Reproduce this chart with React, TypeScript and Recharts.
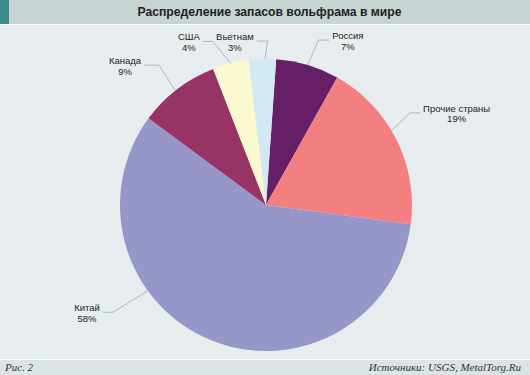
import { Cell, Pie, PieChart } from "recharts";

const countries = ["Россия", "Прочие страны", "Китай", "Канада", "США", "Вьетнам"];
const shares = [7, 19, 58, 9, 4, 3];
const sliceColors = ["#661f66", "#f47f80", "#9696c9", "#983365", "#fdf9cf", "#d0e9f3"];

const title = "Распределение запасов вольфрама в мире";
const figureNote = "Рис. 2";
const sourceNote = "Источники: USGS, MetalTorg.Ru";

const data = countries.map((name, i) => ({ name, value: shares[i] }));

// leader line tweaks: angles in degrees clockwise, distances in px
const leader: Record<string, { edge: number; elbow: number; ext: number; arm: number }> = {
  "Россия": { edge: 0, elbow: 1, ext: 27, arm: 11 },
  "Прочие страны": { edge: -4, elbow: -6, ext: 25, arm: 10 },
  "Китай": { edge: 32, elbow: 33, ext: 41, arm: -10 },
  "Канада": { edge: -1, elbow: 0, ext: 30, arm: -15 },
  "США": { edge: 0, elbow: -4, ext: 26, arm: -10 },
  "Вьетнам": { edge: 1, elbow: 2, ext: 18, arm: -11 },
};

const labelFont = "9.5px 'Liberation Sans', Arial, sans-serif";

let ctx: CanvasRenderingContext2D | null = null;
const textWidth = (s: string) => {
  if (!ctx) ctx = document.createElement("canvas").getContext("2d");
  if (!ctx) return s.length * 5.1;
  ctx.font = labelFont;
  return ctx.measureText(s).width;
};

const polar = (cx: number, cy: number, r: number, deg: number) => {
  const rad = (deg * Math.PI) / 180;
  return { x: cx + r * Math.sin(rad), y: cy - r * Math.cos(rad) };
};

const renderLabel = (props: any) => {
  const { cx, cy, midAngle, outerRadius, name, value } = props;
  const t = leader[name] ?? { edge: 0, elbow: 0, ext: 26, arm: 10 };
  const mid = 90 - midAngle;
  const p0 = polar(cx, cy, outerRadius, mid + t.edge);
  const p1 = polar(cx, cy, outerRadius + t.ext, mid + t.elbow);
  const x2 = p1.x + t.arm;
  const dir = t.arm < 0 ? -1 : 1;
  const pct = `${value}%`;
  const w = Math.max(textWidth(name), textWidth(pct));
  const tx = x2 + dir * (3 + w / 2);
  return (
    <g>
      <polyline
        points={`${p0.x},${p0.y} ${p1.x},${p1.y} ${x2},${p1.y}`}
        fill="none"
        stroke="#a3a8aa"
        strokeWidth={0.8}
      />
      <text x={tx} y={p1.y - 1} textAnchor="middle" fill="#222" style={{ font: labelFont }}>
        <tspan x={tx}>{name}</tspan>
        <tspan x={tx} dy={10.5}>
          {pct}
        </tspan>
      </text>
    </g>
  );
};

export default function App() {
  return (
    <div
      style={{
        position: "absolute",
        left: 0,
        top: 0,
        width: 530,
        height: 375,
        background: "#ffffff",
        fontFamily: "'Liberation Sans', Arial, sans-serif",
      }}
    >
      <div style={{ position: "absolute", left: 0, top: 0, width: 530, height: 24, background: "#c8d3d4" }}>
        <div style={{ position: "absolute", left: 0, top: 0, width: 9, height: 24, background: "#3a8a8d" }} />
        <div
          style={{
            position: "absolute",
            left: 9,
            right: 0,
            top: 0,
            height: 24,
            lineHeight: "24px",
            textAlign: "center",
            fontWeight: "bold",
            fontSize: 12.2,
            color: "#222",
          }}
        >
          {title}
        </div>
      </div>
      <div style={{ position: "absolute", left: 0, top: 25, width: 530, height: 334, background: "#e7edef" }} />
      <div
        style={{
          position: "absolute",
          left: 0,
          top: 360,
          width: 530,
          height: 15,
          background: "#dce3e5",
          fontFamily: "'Liberation Serif', serif",
          fontStyle: "italic",
          fontSize: 11,
          lineHeight: "15px",
          color: "#333",
        }}
      >
        <span style={{ position: "absolute", left: 5, top: 0 }}>{figureNote}</span>
        <span style={{ position: "absolute", right: 9, top: 0 }}>{sourceNote}</span>
      </div>
      <div style={{ position: "absolute", left: 0, top: 0 }}>
        <PieChart width={530} height={375} margin={{ top: 0, right: 0, bottom: 0, left: 0 }}>
          <Pie
            data={data}
            dataKey="value"
            nameKey="name"
            cx={266}
            cy={205}
            outerRadius={146}
            startAngle={86}
            endAngle={-274}
            stroke="none"
            label={renderLabel}
            labelLine={false}
            isAnimationActive={false}
          >
            {data.map((d, i) => (
              <Cell key={d.name} fill={sliceColors[i]} />
            ))}
          </Pie>
        </PieChart>
      </div>
    </div>
  );
}
